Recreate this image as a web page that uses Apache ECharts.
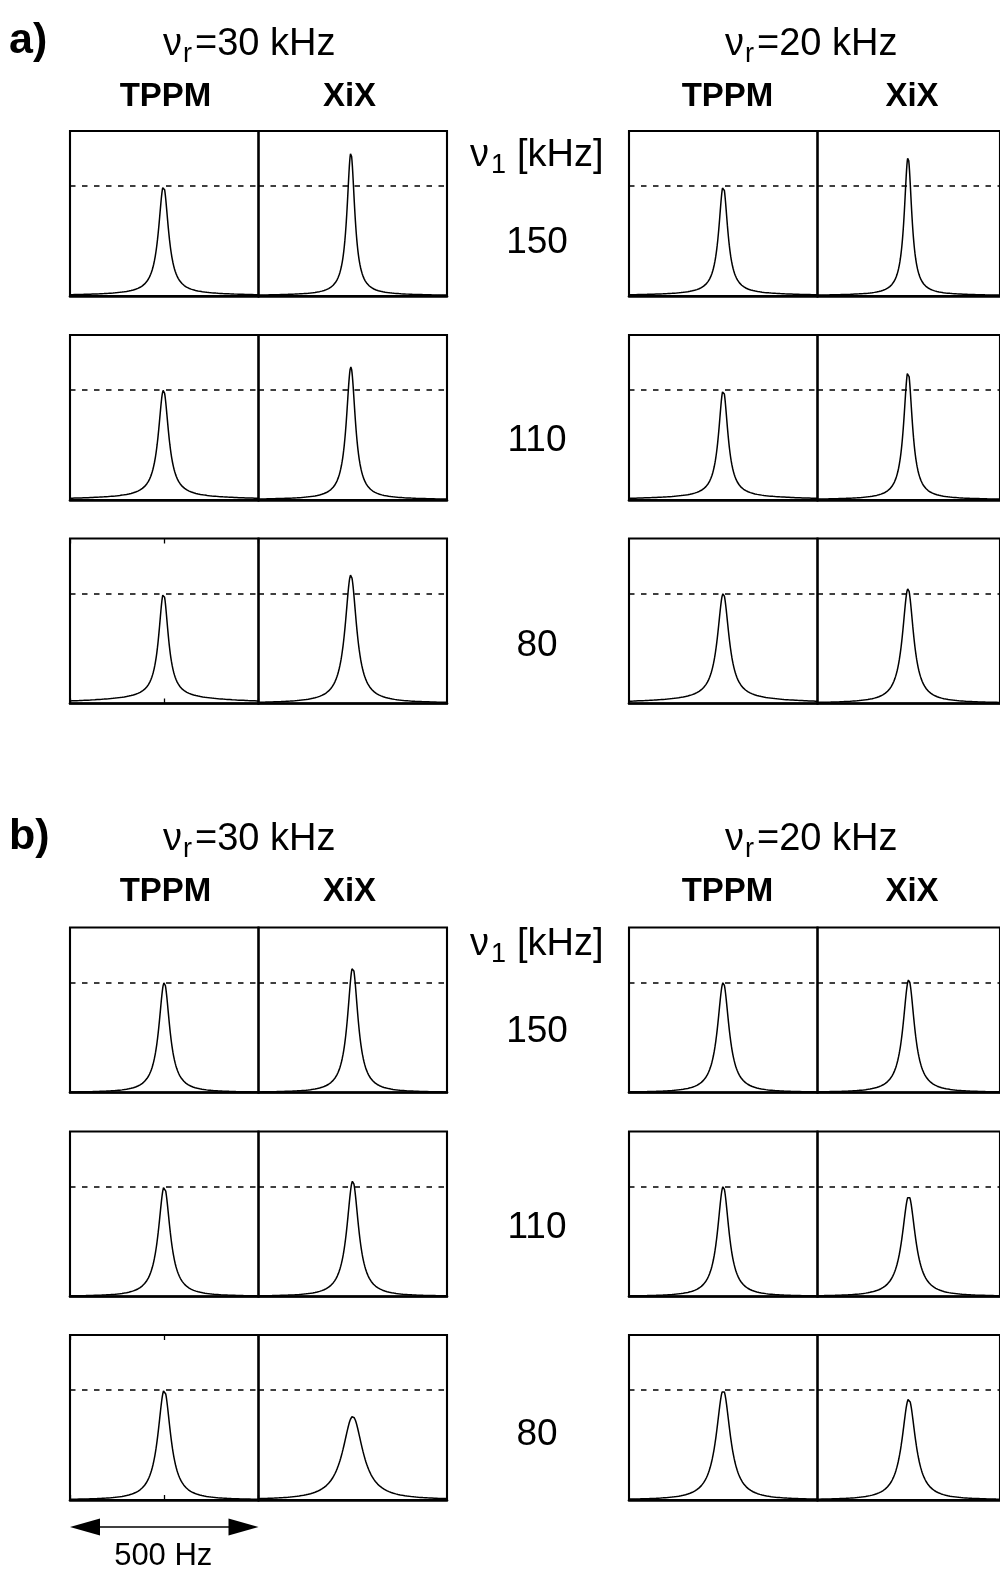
<!DOCTYPE html>
<html>
<head>
<meta charset="utf-8">
<script src="https://cdn.jsdelivr.net/npm/echarts@6/dist/echarts.min.js"></script>
<style>
  html, body { margin: 0; padding: 0; background: #ffffff; }
  #chart { width: 1000px; height: 1569px; }
</style>
</head>
<body>
<div id="chart"></div>
<script>
// 1H-decoupled 13C lines: TPPM vs XiX at two spinning rates (νr) and three rf fields (ν1)
const nu1Rows = ['150', '110', '80'];      // ν1 in kHz, one per row of spectra
const spinRates = ['30', '20'];            // νr in kHz, left and right group
const methods = ['TPPM', 'XiX'];

// Peak heights, relative to the TPPM line at the same νr and ν1 (rows: 150, 110, 80 kHz)
const aTppm30Height = [1.00, 1.00, 1.00];
const aXix30Height  = [1.30, 1.21, 1.17];
const aTppm20Height = [1.00, 1.00, 1.00];
const aXix20Height  = [1.26, 1.17, 1.045];
const bTppm30Height = [1.00, 1.00, 1.00];
const bXix30Height  = [1.14, 1.05, 0.76];
const bTppm20Height = [1.00, 1.00, 1.00];
const bXix20Height  = [1.025, 0.915, 0.92];

// Full linewidth at half height, Hz
const aTppm30Width = [32, 33, 31];
const aXix30Width  = [25, 29, 37];
const aTppm20Width = [29, 30, 37];
const aXix20Width  = [25, 29, 37];
const bTppm30Width = [35, 38, 41];
const bXix30Width  = [34, 38, 64];
const bTppm20Width = [37, 37, 45];
const bXix20Width  = [38, 44, 45];

// Share of the line carried by a broad base (about 400 Hz wide)
const aTppm30Wing = [0.02, 0.03, 0.05];
const aXix30Wing  = [0.01, 0.01, 0.01];
const aTppm20Wing = [0.02, 0.03, 0.04];
const aXix20Wing  = [0.01, 0.01, 0.01];
const bTppm30Wing = [0.00, 0.00, 0.00];
const bXix30Wing  = [0.00, 0.00, 0.00];
const bTppm20Wing = [0.00, 0.00, 0.00];
const bXix20Wing  = [0.00, 0.00, 0.00];

// Line position, Hz from the centre of each 500 Hz window
const aTppm30Centre = [-2, -2, -2];
const aXix30Centre  = [-5, -5, -5];
const aTppm20Centre = [0, 0, 0];
const aXix20Centre  = [-2, -2, -2];
const bTppm30Centre = [0, 0, 0];
const bXix30Centre  = [0, 0, 0];
const bTppm20Centre = [0, 0, 0];
const bXix20Centre  = [0, 0, 0];

const windowHz = [-250, 250];   // each panel spans 500 Hz
const wingWidthHz = 400;
const referenceLevel = 1.0;     // dashed line: TPPM peak height

const sections = [
  { key: 'a', lines: [
    [[aTppm30Height, aTppm30Width, aTppm30Wing, aTppm30Centre], [aXix30Height, aXix30Width, aXix30Wing, aXix30Centre]],
    [[aTppm20Height, aTppm20Width, aTppm20Wing, aTppm20Centre], [aXix20Height, aXix20Width, aXix20Wing, aXix20Centre]]
  ]},
  { key: 'b', lines: [
    [[bTppm30Height, bTppm30Width, bTppm30Wing, bTppm30Centre], [bXix30Height, bXix30Width, bXix30Wing, bXix30Centre]],
    [[bTppm20Height, bTppm20Width, bTppm20Wing, bTppm20Centre], [bXix20Height, bXix20Width, bXix20Wing, bXix20Centre]]
  ]}
];

// Lorentzian line (plus a weak broad base) sampled across the window
function spectrum(height, fwhm, wing, centre) {
  const pts = [];
  for (let x = windowHz[0]; x <= windowHz[1]; x += 1) {
    const u = (x - centre) / (fwhm / 2);
    const v = (x - centre) / (wingWidthHz / 2);
    pts.push([x, height * ((1 - wing) / (1 + u * u) + wing / (1 + v * v))]);
  }
  return pts;
}

// Layout (px)
const groupLeft = [70, 629];
const panelW = 188.5;
const panelH = 165;
const rowTop = { a: [131, 335, 538.5], b: [927.5, 1131.5, 1335] };

const grid = [], xAxis = [], yAxis = [], series = [];
let tickGridIndex = {};

sections.forEach(sec => {
  spinRates.forEach((rate, g) => {
    methods.forEach((m, k) => {
      nu1Rows.forEach((nu1, r) => {
        const gi = grid.length;
        grid.push({
          left: groupLeft[g] + k * panelW, top: rowTop[sec.key][r],
          width: panelW, height: panelH,
          show: true, borderColor: '#000', borderWidth: 2.1, backgroundColor: 'transparent'
        });
        const withTick = (g === 0 && k === 0 && r === 2);
        if (withTick) tickGridIndex[sec.key] = xAxis.length;
        const xa = {
          type: 'value', gridIndex: gi, min: windowHz[0], max: windowHz[1], interval: 250,
          axisLine: { show: true, lineStyle: { color: '#000', width: 2.6 } },
          axisTick: { show: withTick, inside: true, length: 5, lineStyle: { color: '#000', width: 1.3 } },
          axisLabel: { show: false }, splitLine: { show: false }
        };
        xAxis.push(xa);
        if (withTick) {
          xAxis.push(Object.assign({}, xa, { position: 'top', axisLine: { show: false } }));
        }
        yAxis.push({
          type: 'value', gridIndex: gi, min: 0, max: 1.5,
          show: false, splitLine: { show: false }
        });
        const p = sec.lines[g][k];
        series.push({
          type: 'line', xAxisIndex: xAxis.length - (withTick ? 2 : 1), yAxisIndex: yAxis.length - 1,
          data: spectrum(p[0][r], p[1][r], p[2][r], p[3][r]),
          showSymbol: false, symbol: 'none', clip: true, silent: true,
          lineStyle: { color: '#000', width: 1.5 },
          markLine: {
            silent: true, symbol: 'none', animation: false,
            label: { show: false },
            lineStyle: { color: '#000', width: 1.6, type: [5.5, 6.5] },
            data: [{ yAxis: referenceLevel }]
          }
        });
      });
    });
  });
});

const chart = echarts.init(document.getElementById('chart'), null, { renderer: 'canvas', width: 1000, height: 1569 });
chart.setOption({
  animation: false,
  backgroundColor: '#ffffff',
  grid, xAxis, yAxis, series
});

// Text and the 500 Hz scale bar
const FONT = '"Liberation Sans", Arial, Helvetica, sans-serif';
function txt(x, y, text, size, opts) {
  return {
    type: 'text', x, y, silent: true,
    style: Object.assign({
      text, fontSize: size, fontFamily: FONT, fill: '#000',
      align: 'left', verticalAlign: 'middle'
    }, opts || {})
  };
}

const headerY = {
  a: { label: 41, nu: 44.5, sub: 55, method: 96.5, nu1: 155.5, nu1sub: 166, rows: [243, 441, 645.5] },
  b: { label: 837, nu: 839.5, sub: 850, method: 892, nu1: 944.5, nu1sub: 955, rows: [1031.5, 1228, 1435] }
};
const nuLeft = [163, 725];
const methodCentre = [[165.5, 349.5], [727.5, 912]];

const graphics = [];
['a', 'b'].forEach(key => {
  const h = headerY[key];
  graphics.push(txt(9, h.label, key + ')', 43, { fontWeight: 'bold' }));
  spinRates.forEach((rate, g) => {
    graphics.push(txt(nuLeft[g], h.nu, 'ν', 38));
    graphics.push(txt(nuLeft[g] + 20, h.sub, 'r', 27));
    graphics.push(txt(nuLeft[g] + 32, h.nu, '=' + rate + ' kHz', 38));
    methods.forEach((m, k) => {
      graphics.push(txt(methodCentre[g][k], h.method, m, 33, { fontWeight: 'bold', align: 'center' }));
    });
  });
  graphics.push(txt(470, h.nu1, 'ν', 38));
  graphics.push(txt(491, h.nu1sub, '1', 27));
  graphics.push(txt(517, h.nu1, '[kHz]', 38));
  nu1Rows.forEach((v, r) => {
    graphics.push(txt(537, h.rows[r], v, 37, { align: 'center' }));
  });
});

// scale bar spanning the full window of the lower-left panel
const xi = tickGridIndex['b'];
const x0 = chart.convertToPixel({ xAxisIndex: xi }, windowHz[0]);
const x1 = chart.convertToPixel({ xAxisIndex: xi }, windowHz[1]);
const ay = 1527, headL = 30, headH = 8.5;
graphics.push({ type: 'line', silent: true, shape: { x1: x0 + headL - 2, y1: ay, x2: x1 - headL + 2, y2: ay }, style: { stroke: '#000', lineWidth: 1.7 } });
graphics.push({ type: 'polygon', silent: true, shape: { points: [[x0, ay], [x0 + headL, ay - headH], [x0 + headL, ay + headH]] }, style: { fill: '#000' } });
graphics.push({ type: 'polygon', silent: true, shape: { points: [[x1, ay], [x1 - headL, ay - headH], [x1 - headL, ay + headH]] }, style: { fill: '#000' } });
graphics.push(txt((x0 + x1) / 2 - 1, 1556, (windowHz[1] - windowHz[0]) + ' Hz', 31, { align: 'center' }));

chart.setOption({ graphic: graphics });
</script>
</body>
</html>
